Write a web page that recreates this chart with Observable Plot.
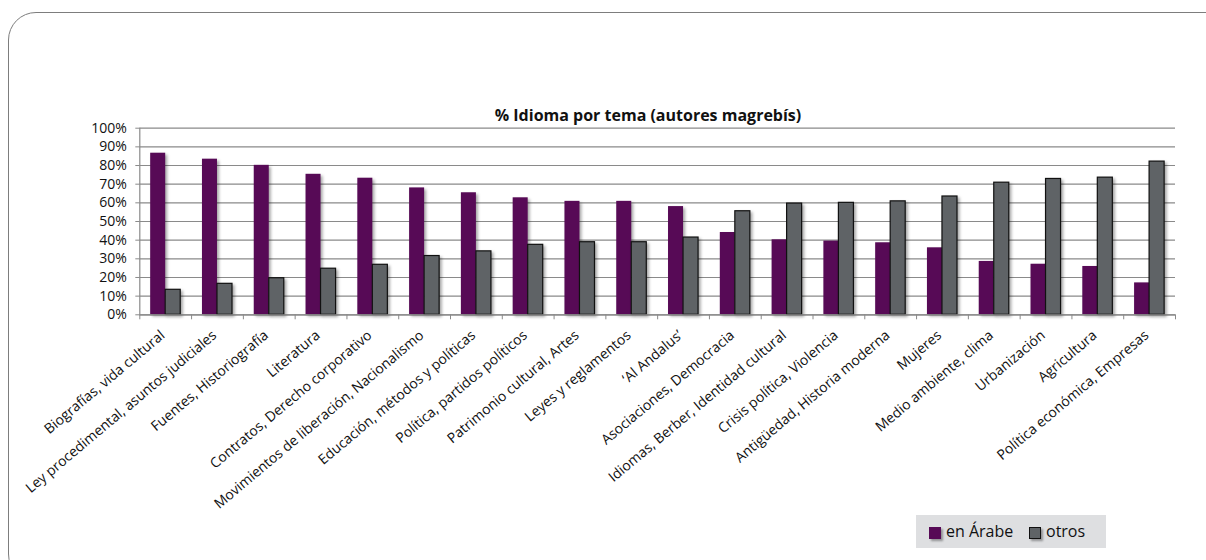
<!DOCTYPE html>
<html>
<head>
<meta charset="utf-8">
<script src="https://cdn.jsdelivr.net/npm/d3@7"></script>
<script src="https://cdn.jsdelivr.net/npm/@observablehq/plot@0.6"></script>
<style>
  html, body { margin: 0; padding: 0; background: #fff; overflow: hidden; }
  #wrap { position: relative; width: 1206px; height: 560px; font-family: "Open Sans", sans-serif; }
  #frame { position: absolute; left: 8px; top: 12px; width: 1240px; height: 570px; border: 1.3px solid #7d7d7d; border-radius: 28px; box-sizing: border-box; }
  #title { position: absolute; left: 0; width: 1296px; top: 105px; text-align: center; font-weight: 700; font-size: 16px; color: #111; line-height: 20px; }
  #chart { position: absolute; left: 0; top: 0; }
  #chart svg { overflow: visible; }
  .bars rect { filter: drop-shadow(2px 2px 1.5px rgba(0,0,0,0.35)); }
  #legend { position: absolute; left: 916px; top: 515px; width: 190px; height: 33px; background: #dedfe1; font-size: 16px; color: #111; }
  #legend .item { position: absolute; top: 5px; line-height: 22px; }
  #legend .sw { position: absolute; width: 12px; height: 12px; top: 7px; left: -17px; box-sizing: border-box; box-shadow: 2px 2px 2px rgba(0,0,0,0.35); }
</style>
</head>
<body>
<div id="wrap">
  <div id="frame"></div>
  <div id="title">% Idioma por tema (autores magrebís)</div>
  <div id="chart"></div>
  <div id="legend"></div>
</div>
<script>
const categories = [
  "Biografías, vida cultural",
  "Ley procedimental, asuntos judiciales",
  "Fuentes, Historiografía",
  "Literatura",
  "Contratos, Derecho corporativo",
  "Movimientos de liberación, Nacionalismo",
  "Educación, métodos y políticas",
  "Política, partidos políticos",
  "Patrimonio cultural, Artes",
  "Leyes y reglamentos",
  "‘Al Andalus’",
  "Asociaciones, Democracia",
  "Idiomas, Berber, Identidad cultural",
  "Crisis política, Violencia",
  "Antigüedad, Historia moderna",
  "Mujeres",
  "Medio ambiente, clima",
  "Urbanización",
  "Agricultura",
  "Política económica, Empresas"
];
const arabe = [86.6, 83.4, 80.1, 75.3, 73.2, 68.0, 65.4, 62.7, 60.8, 60.8, 58.0, 44.1, 40.2, 39.5, 38.6, 35.9, 28.6, 27.1, 25.9, 17.1];
const otros = [13.4, 16.6, 19.6, 24.7, 26.8, 31.5, 34.0, 37.5, 38.9, 38.9, 41.4, 55.5, 59.6, 60.0, 60.8, 63.4, 70.8, 72.8, 73.5, 82.1];
const yTicks = [0, 10, 20, 30, 40, 50, 60, 70, 80, 90, 100];
const seriesNames = ["en Árabe", "otros"];
const seriesColors = ["#570a56", "#5f6366"];

const dataArabe = categories.map((c, i) => ({cat: c, value: arabe[i]}));
const dataOtros = categories.map((c, i) => ({cat: c, value: otros[i]}));

const W = 1206, H = 560;
const mL = 139.3, mR = 31, mT = 127.7, mB = H - 314.3;
const step = (W - mL - mR) / categories.length;
const half = step / 2;
const bw = step * 0.58;

const plot = Plot.plot({
  width: W,
  height: H,
  marginLeft: mL,
  marginRight: mR,
  marginTop: mT,
  marginBottom: mB,
  style: {fontFamily: "'Open Sans', sans-serif", fontSize: "13px", color: "#111", background: "transparent"},
  x: {type: "band", domain: categories, paddingInner: 0.42, paddingOuter: 0.21, round: false, axis: null, label: null},
  y: {domain: [0, 100], axis: null, label: null},
  marks: [
    Plot.gridY(yTicks, {stroke: "#8a8a8a", strokeOpacity: 1, strokeWidth: 1.2}),
    Plot.ruleX([categories[0]], {dx: -half, stroke: "#8a8a8a", strokeWidth: 1.2}),
    Plot.axisY({ticks: yTicks, tickFormat: d => d + "%", tickSize: 4, tickPadding: 9, stroke: "#8a8a8a", fill: "#111", fontSize: 14, label: null}),
    Plot.barY(dataArabe, {x: "cat", y: "value", fill: seriesColors[0], insetRight: bw / 2, className: "bars"}),
    Plot.barY(dataOtros, {x: "cat", y: "value", fill: seriesColors[1], stroke: "#111", strokeWidth: 1.2, insetLeft: bw / 2, className: "bars"}),
    Plot.ruleY([0], {stroke: "#8a8a8a", strokeWidth: 1.2}),
    Plot.axisX({ticks: categories, tickFormat: () => "", tickSize: 5, dx: -half, stroke: "#8a8a8a", label: null}),
    Plot.axisX({ticks: [categories[categories.length - 1]], tickFormat: () => "", tickSize: 5, dx: half, stroke: "#8a8a8a", label: null}),
    Plot.text(categories, {x: d => d, frameAnchor: "bottom", text: d => d, rotate: -40, textAnchor: "end", lineAnchor: "bottom", dx: 0, dy: 22, fontSize: 14, fill: "#111"})
  ]
});
document.getElementById("chart").appendChild(plot);

const legend = document.getElementById("legend");
const legendLeft = [30, 130];
seriesNames.forEach((name, i) => {
  const it = document.createElement("div");
  it.className = "item";
  it.style.left = legendLeft[i] + "px";
  const sw = document.createElement("span");
  sw.className = "sw";
  sw.style.background = seriesColors[i];
  if (i === 1) sw.style.border = "1.2px solid #111";
  it.appendChild(sw);
  it.appendChild(document.createTextNode(name));
  legend.appendChild(it);
});
</script>
</body>
</html>
